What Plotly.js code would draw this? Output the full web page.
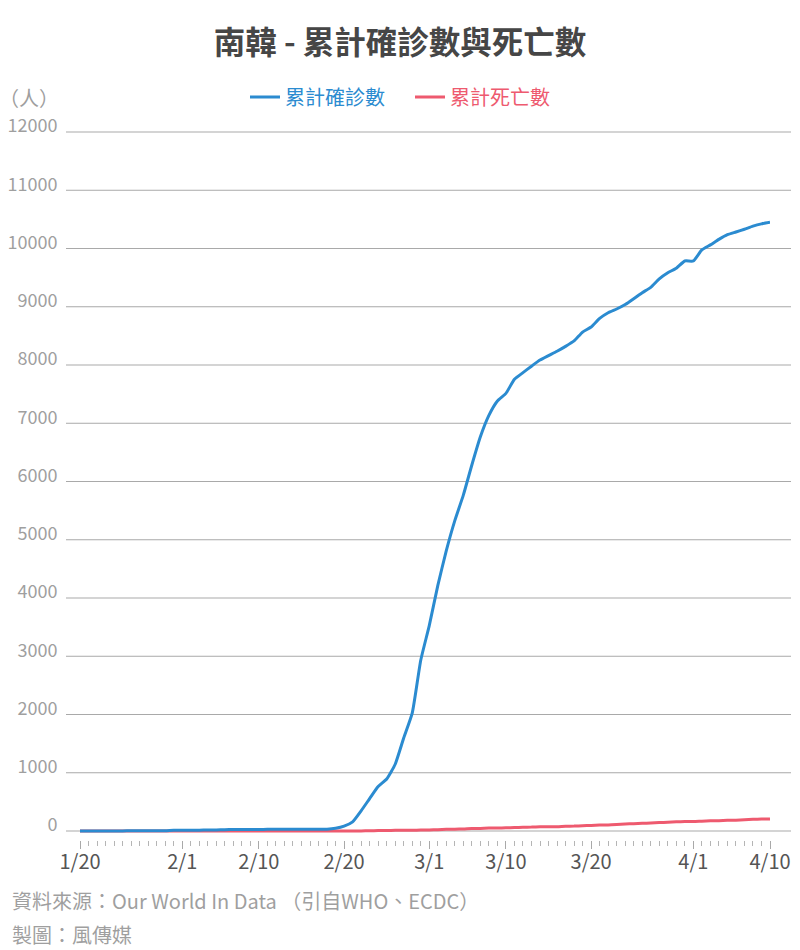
<!DOCTYPE html>
<html>
<head>
<meta charset="utf-8">
<script src="https://cdn.plot.ly/plotly-3.0.1.min.js"></script>
<style>
  html, body { margin: 0; padding: 0; background: #fff; }
  #chart { width: 800px; height: 950px; }
</style>
</head>
<body>
<div id="chart"></div>
<script>
// ---- data ----
const dates = [
  "2020-01-20","2020-01-21","2020-01-22","2020-01-23","2020-01-24","2020-01-25","2020-01-26","2020-01-27","2020-01-28","2020-01-29","2020-01-30","2020-01-31",
  "2020-02-01","2020-02-02","2020-02-03","2020-02-04","2020-02-05","2020-02-06","2020-02-07","2020-02-08","2020-02-09","2020-02-10",
  "2020-02-11","2020-02-12","2020-02-13","2020-02-14","2020-02-15","2020-02-16","2020-02-17","2020-02-18","2020-02-19","2020-02-20",
  "2020-02-21","2020-02-22","2020-02-23","2020-02-24","2020-02-25","2020-02-26","2020-02-27","2020-02-28","2020-02-29",
  "2020-03-01","2020-03-02","2020-03-03","2020-03-04","2020-03-05","2020-03-06","2020-03-07","2020-03-08","2020-03-09","2020-03-10",
  "2020-03-11","2020-03-12","2020-03-13","2020-03-14","2020-03-15","2020-03-16","2020-03-17","2020-03-18","2020-03-19","2020-03-20",
  "2020-03-21","2020-03-22","2020-03-23","2020-03-24","2020-03-25","2020-03-26","2020-03-27","2020-03-28","2020-03-29","2020-03-30","2020-03-31",
  "2020-04-01","2020-04-02","2020-04-03","2020-04-04","2020-04-05","2020-04-06","2020-04-07","2020-04-08","2020-04-09","2020-04-10"
];
const confirmed = [
  1,1,1,1,2,2,3,4,4,4,4,11,
  12,15,15,16,19,23,24,24,27,27,
  28,28,28,28,28,29,30,31,46,82,
  156,346,556,763,893,1146,1595,2022,2931,
  3526,4212,4812,5328,5766,6284,6767,7134,7382,7513,
  7755,7869,7979,8086,8162,8236,8320,8413,8565,8652,
  8799,8897,8961,9037,9137,9241,9332,9478,9583,9661,9786,
  9786,9976,10062,10156,10237,10284,10331,10384,10423,10450
];
const deaths = [
  0,0,0,0,0,0,0,0,0,0,0,0,
  0,0,0,0,0,0,0,0,0,0,
  0,0,0,0,0,0,0,0,0,1,
  1,2,5,7,8,11,12,13,16,
  17,22,28,32,35,42,44,50,51,54,
  60,66,67,72,75,75,81,84,91,94,
  102,104,111,120,126,131,139,144,152,158,162,
  162,169,174,177,183,186,192,200,204,208
];
const xTickVals = ["2020-01-20","2020-02-01","2020-02-10","2020-02-20","2020-03-01","2020-03-10","2020-03-20","2020-04-01","2020-04-10"];
const xTickText = ["1/20","2/1","2/10","2/20","3/1","3/10","3/20","4/1","4/10"];
const yTickVals = [0,1000,2000,3000,4000,5000,6000,7000,8000,9000,10000,11000,12000];
const seriesNames = ["累計確診數","累計死亡數"];

// ---- layout helpers ----
const FIG_W = 800, FIG_H = 950;
const M = { l: 80, r: 30, t: 122, b: 110, autoexpand: false };
const PW = FIG_W - M.l - M.r, PH = FIG_H - M.t - M.b;
const px = x => (x - M.l) / PW;
const py = y => (FIG_H - M.b - y) / PH;

const FONT = '"Noto Sans CJK TC", "Noto Sans", sans-serif';
const BLUE = '#2b8bd0';
const RED = '#ee5a6f';

const traces = [
  {
    x: dates, y: deaths, type: 'scatter', mode: 'lines',
    name: '<span style="color:' + RED + '">' + seriesNames[1] + '</span>',
    line: { color: RED, width: 3, shape: 'spline', smoothing: 0.5 },
    legendrank: 2, hoverinfo: 'skip'
  },
  {
    x: dates, y: confirmed, type: 'scatter', mode: 'lines',
    name: '<span style="color:' + BLUE + '">' + seriesNames[0] + '</span>',
    line: { color: BLUE, width: 3, shape: 'spline', smoothing: 0.5 },
    legendrank: 1, hoverinfo: 'skip'
  }
];

const gridShapes = yTickVals.map(v => ({
  type: 'line', xref: 'paper', yref: 'y',
  x0: px(66), x1: px(791), y0: v, y1: v,
  line: { color: '#a9a9a9', width: 1 }, layer: 'below'
}));

const layout = {
  width: FIG_W, height: FIG_H,
  margin: M,
  paper_bgcolor: '#fff', plot_bgcolor: 'rgba(0,0,0,0)',
  font: { family: FONT, color: '#555' },
  title: {
    text: '南韓 - 累計確診數與死亡數',
    font: { family: FONT, size: 31.5, color: '#464646', weight: 700 },
    x: 0.5, xanchor: 'center', y: 1 - 43 / FIG_H, yanchor: 'middle'
  },
  showlegend: true,
  legend: {
    orientation: 'h', x: px(410), xanchor: 'center',
    y: py(97), yanchor: 'middle',
    font: { family: FONT, size: 20 },
    entrywidth: 120, entrywidthmode: 'pixels',
    bgcolor: 'rgba(0,0,0,0)'
  },
  xaxis: {
    type: 'date',
    range: ['2020-01-20', '2020-04-10'],
    tickvals: xTickVals, ticktext: xTickText, tickangle: 0,
    ticks: 'outside', ticklen: 8, tickwidth: 1, tickcolor: '#a9a9a9',
    ticklabelstandoff: -4,
    tickfont: { family: FONT, size: 20, color: '#555' },
    minor: { dtick: 86400000, tick0: '2020-01-20', ticks: 'outside', ticklen: 5, tickwidth: 1, tickcolor: '#b5b5b5', showgrid: false },
    showgrid: false, zeroline: false, showline: false, fixedrange: true, automargin: false
  },
  yaxis: {
    range: [-(FIG_H - M.b - 831) / (699 / 12000), 12000 + (132 - M.t) / (699 / 12000)],
    tickvals: yTickVals, ticktext: yTickVals.map(String),
    ticks: 'outside', ticklen: 18, tickcolor: 'rgba(0,0,0,0)',
    ticklabelshift: -6,
    tickfont: { family: FONT, size: 18, color: '#9f9f9f' },
    showgrid: false, zeroline: false, showline: false, fixedrange: true, automargin: false
  },
  shapes: gridShapes,
  annotations: [
    { text: '（人）', xref: 'paper', yref: 'paper', x: px(29), y: py(97), xanchor: 'center', yanchor: 'middle',
      showarrow: false, font: { family: FONT, size: 20, color: '#9f9f9f' } },
    { text: '資料來源：Our World In Data （引自WHO、ECDC）', xref: 'paper', yref: 'paper', x: px(10), y: py(900), xanchor: 'left', yanchor: 'middle',
      showarrow: false, font: { family: FONT, size: 20, color: '#9f9f9f' } },
    { text: '製圖：風傳媒', xref: 'paper', yref: 'paper', x: px(10), y: py(934), xanchor: 'left', yanchor: 'middle',
      showarrow: false, font: { family: FONT, size: 20, color: '#9f9f9f' } }
  ]
};

Plotly.newPlot('chart', traces, layout, { displayModeBar: false, staticPlot: true });
</script>
</body>
</html>
